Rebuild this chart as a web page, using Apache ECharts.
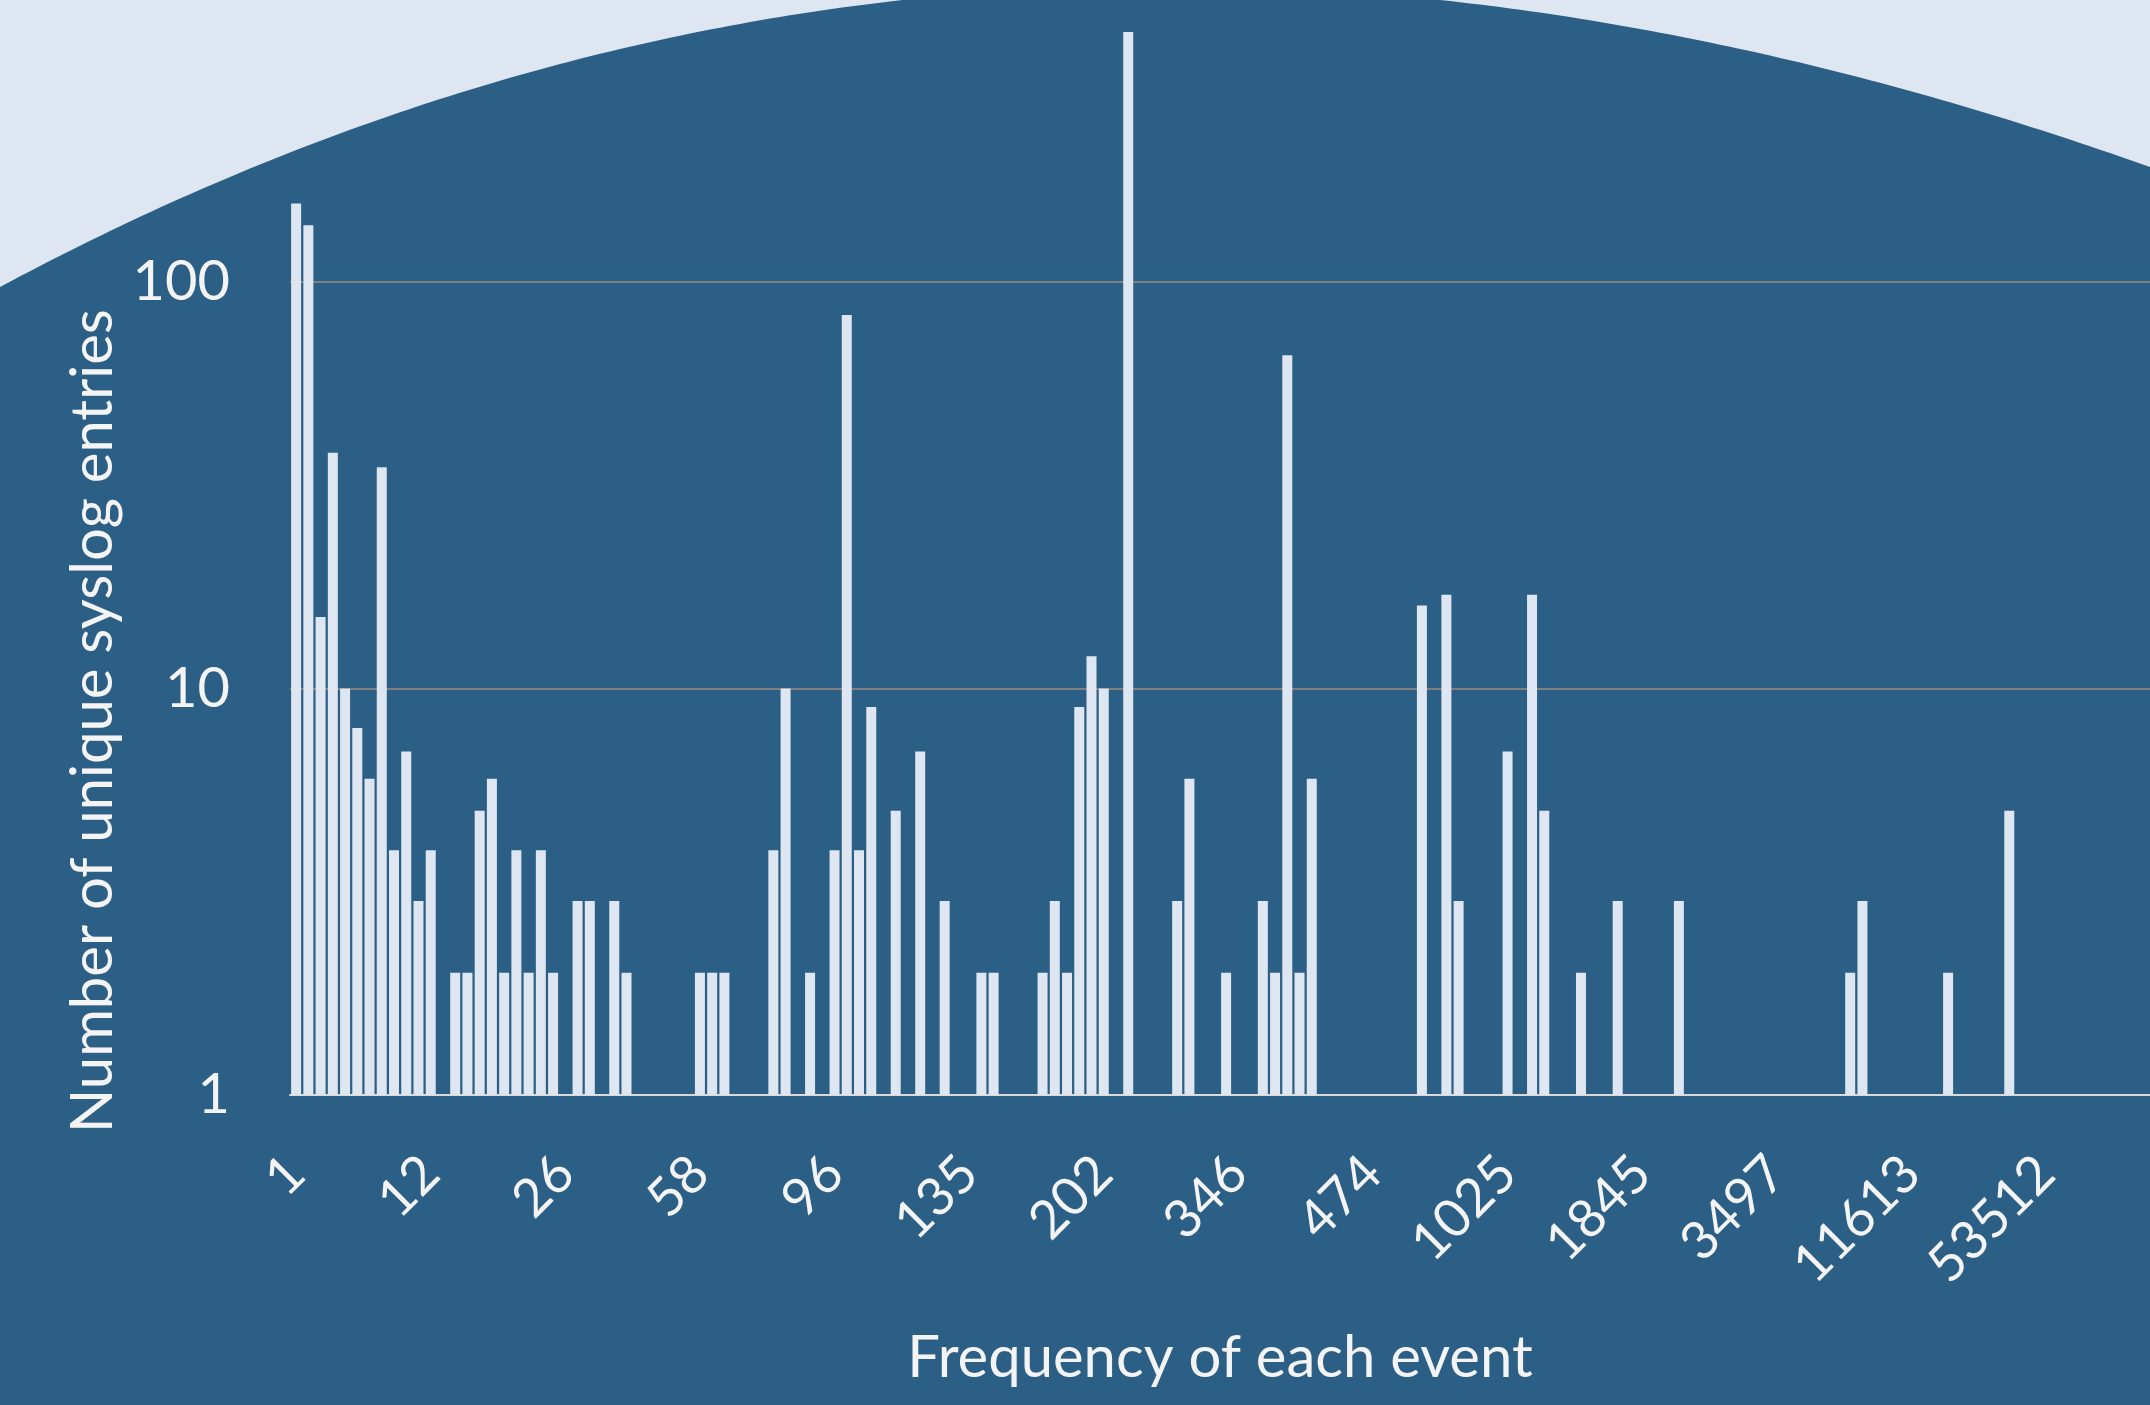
<!DOCTYPE html>
<html>
<head>
<meta charset="utf-8">
<title>Frequency of each event</title>
<script src="https://cdn.jsdelivr.net/npm/echarts@6/dist/echarts.min.js"></script>
<style>
  html, body { margin: 0; padding: 0; background: #dde6f1; }
  #chart { width: 2150px; height: 1405px; }
</style>
</head>
<body>
<div id="chart"></div>
<script>
// event frequency (x categories) - only every 11th one is labelled in the picture,
// the ones in between are estimates
var frequencies = [
  1, 2, 3, 4, 5, 6, 7, 8, 9, 10, 11, 12,
  13, 14, 15, 16, 17, 18, 19, 20, 22, 24, 26,
  28, 30, 32, 35, 38, 41, 44, 47, 50, 54, 58,
  61, 64, 67, 70, 73, 77, 80, 84, 88, 92, 96,
  99, 102, 106, 109, 113, 116, 120, 124, 127, 131, 135,
  140, 146, 152, 158, 164, 170, 176, 183, 189, 196, 202,
  214, 226, 239, 252, 265, 279, 293, 306, 320, 333, 346,
  357, 368, 380, 391, 403, 414, 426, 438, 450, 462, 474,
  512, 560, 610, 660, 710, 765, 820, 875, 930, 980, 1025,
  1100, 1170, 1240, 1320, 1400, 1480, 1560, 1630, 1700, 1770, 1845,
  1990, 2140, 2290, 2450, 2600, 2760, 2910, 3060, 3210, 3350, 3497,
  4150, 4800, 5500, 6200, 6900, 7600, 8300, 9000, 9800, 10700, 11613,
  14500, 17800, 21000, 24500, 28000, 31700, 35500, 39600, 43800, 48500, 53512,
  60000, 68000, 76000, 85000, 95000, 110000, 130000, 160000
]

// number of unique syslog entries per frequency
var entryCounts = [
  156, 138, 15, 38, 10, 8, 6, 35, 4, 7, 3, 4,
  1, 2, 2, 5, 6, 2, 4, 2, 4, 2, 1,
  3, 3, 1, 3, 2, 1, 1, 1, 1, 1, 2,
  2, 2, 1, 1, 1, 4, 10, 1, 2, 1, 4,
  83, 4, 9, 1, 5, 1, 7, 1, 3, 1, 1,
  2, 2, 1, 1, 1, 2, 3, 2, 9, 12, 10,
  1, 412, 1, 1, 1, 3, 6, 1, 1, 2, 1,
  1, 3, 2, 66, 2, 6, 1, 1, 1, 1, 1,
  1, 1, 1, 16, 1, 17, 3, 1, 1, 1, 7,
  1, 17, 5, 1, 1, 2, 1, 1, 3, 1, 1,
  1, 1, 3, 1, 1, 1, 1, 1, 1, 1, 1,
  1, 1, 1, 1, 1, 2, 3, 1, 1, 1, 1,
  1, 1, 2, 1, 1, 1, 1, 5, 1, 1, 1,
  1, 1, 1, 1, 1, 1, 1, 1
]

var darkBlue = '#2c5f86'
var lightBlue = '#dde6f1'
var textColor = '#f4f4f4'
var fontName = 'Lato'

// light area above the big dark arc (decoration only), smooth edge
function arcPoints() {
  var pts = [[-200, -400]]
  for (var x = -200; x <= 2350; x += 10) {
    var u = x / 1000
    pts.push([x, 287 - 536.68 * u + 255.85 * u * u - 14.97 * u * u * u])
  }
  pts.push([2350, -400])
  return pts
}

var myChart = echarts.init(document.getElementById('chart'))

var option = {
  backgroundColor: darkBlue,
  animation: false,
  textStyle: { fontFamily: fontName },
  grid: {
    left: 290,
    right: 0,
    top: -124.5,
    bottom: 310,
    containLabel: false,
    outerBoundsMode: 'none'
  },
  graphic: [
    {
      type: 'polygon',
      silent: true,
      z: 0,
      shape: { points: arcPoints() },
      style: { fill: lightBlue }
    },
    {
      type: 'text',
      silent: true,
      x: 93,
      y: 721,
      rotation: Math.PI / 2,
      style: {
        text: 'Number of unique syslog entries',
        fill: textColor,
        fontFamily: fontName,
        fontSize: 58,
        textAlign: 'center',
        textVerticalAlign: 'middle'
      }
    }
  ],
  xAxis: {
    type: 'category',
    data: frequencies,
    name: 'Frequency of each event',
    nameLocation: 'middle',
    nameGap: 234,
    nameMoveOverlap: false,
    nameTextStyle: { color: textColor, fontSize: 58, fontFamily: fontName },
    axisLine: { lineStyle: { color: '#d9d9d9', width: 2 } },
    axisTick: { show: false },
    axisLabel: {
      interval: 10,
      rotate: 45,
      margin: 70,
      color: textColor,
      fontSize: 53,
      fontFamily: fontName
    },
    splitLine: { show: false }
  },
  yAxis: {
    type: 'log',
    logBase: 10,
    min: 1,
    max: 1000,
    axisLine: { show: false },
    axisTick: { show: false },
    axisLabel: {
      margin: 60,
      color: textColor,
      fontSize: 56,
      fontFamily: fontName
    },
    splitLine: { lineStyle: { color: '#7f7f7f', width: 2 } }
  },
  series: [{
    type: 'bar',
    data: entryCounts,
    barWidth: 10,
    itemStyle: { color: lightBlue }
  }]
}

myChart.setOption(option)
</script>
</body>
</html>
